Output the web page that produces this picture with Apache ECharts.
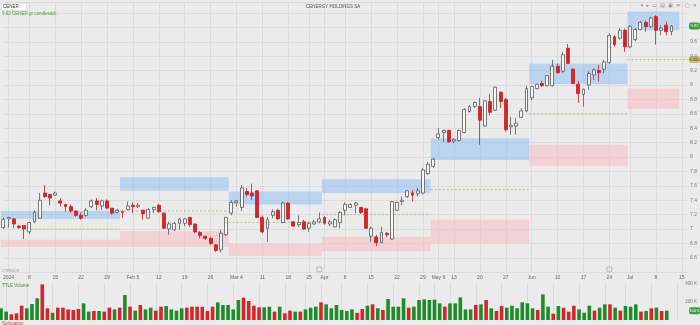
<!DOCTYPE html>
<html><head><meta charset="utf-8">
<script src="https://cdn.jsdelivr.net/npm/echarts@6/dist/echarts.min.js"></script>
<style>html,body{margin:0;padding:0;background:#ebebeb;}#c{width:700px;height:325px;}</style>
</head><body><div id="c"></div>
<script>
// trading days (Athens exchange), Dec 29 2023 .. Jul 11 2024
const tradingDays = {
  '2023-12': [29],
  '2024-01': [2,3,4,5,8,9,10,11,12,15,16,17,18,19,22,23,24,25,26,29,30,31],
  '2024-02': [1,2,5,6,7,8,9,12,13,14,15,16,19,20,21,22,23,26,27,28,29],
  '2024-03': [1,4,5,6,7,8,11,12,13,14,15,19,20,21,22,26,27,28],
  '2024-04': [2,3,4,5,8,9,10,11,12,15,16,17,18,19,22,23,24,25,26,29,30],
  '2024-05': [2,7,8,9,13,14,15,16,17,20,21,22,23,24,27,28,29,30,31],
  '2024-06': [3,4,5,6,7,10,11,12,13,14,17,18,19,20,21,25,26,27,28],
  '2024-07': [1,2,3,4,5,8,9,10,11]
};
const futureDates = ['2024-07-12','2024-07-15','2024-07-16'];

const opens = [7.02,7.14,7.14,7.04,7.05,6.96,7.10,7.15,7.50,7.48,
 7.47,7.39,7.34,7.31,7.25,7.19,7.19,7.31,7.39,7.32,
 7.39,7.29,7.23,7.24,7.27,7.33,7.31,7.26,7.15,7.27,
 7.33,7.22,7.00,6.99,7.08,7.08,7.16,7.07,6.95,6.90,
 6.87,6.78,6.71,6.92,7.22,7.37,7.30,7.52,7.50,7.53,
 7.16,7.01,7.19,7.26,7.09,7.36,7.10,7.06,7.10,7.01,
 7.07,7.10,7.16,7.07,7.03,7.09,7.26,7.30,7.33,7.30,
 7.28,6.90,6.89,6.81,6.94,6.86,7.26,7.38,7.45,7.50,
 7.49,7.50,7.77,7.87,8.27,8.34,8.37,8.22,8.23,8.34,
 8.63,8.70,8.70,8.43,8.77,8.65,8.90,8.80,8.42,8.43,
 8.55,8.64,8.82,8.95,9.02,8.99,8.99,9.26,9.19,9.51,
 9.22,9.01,8.87,9.00,9.14,9.20,9.22,9.31,9.67,9.65,
 9.76,9.53,9.63,9.77,9.87,9.81,9.95,9.76,9.83,9.74];
const highs = [7.16,7.17,7.15,7.06,7.05,7.10,7.26,7.50,7.61,7.49,
 7.52,7.43,7.35,7.34,7.26,7.23,7.29,7.41,7.43,7.41,
 7.41,7.29,7.28,7.26,7.38,7.37,7.36,7.27,7.29,7.31,
 7.35,7.23,7.10,7.10,7.15,7.15,7.17,7.08,6.97,6.91,
 6.89,6.79,6.99,7.17,7.40,7.40,7.61,7.57,7.63,7.54,
 7.19,7.17,7.27,7.28,7.38,7.37,7.11,7.19,7.13,7.10,
 7.13,7.23,7.18,7.13,7.15,7.25,7.37,7.36,7.38,7.31,
 7.29,7.03,6.92,7.03,6.96,7.39,7.38,7.45,7.54,7.54,
 7.57,7.85,7.93,7.99,8.40,8.38,8.38,8.26,8.38,8.68,
 8.72,8.77,8.82,8.79,8.88,8.98,8.91,8.82,8.56,8.54,
 8.68,8.99,8.99,9.02,9.06,9.14,9.35,9.30,9.46,9.57,
 9.23,9.06,8.95,9.19,9.23,9.28,9.35,9.72,9.69,9.79,
 9.78,9.83,9.79,9.89,9.90,9.95,9.97,9.83,9.88,9.83];
const lows = [7.00,7.02,7.01,7.00,6.86,6.93,7.08,7.14,7.43,7.33,
 7.46,7.31,7.24,7.22,7.17,7.13,7.17,7.29,7.26,7.26,
 7.27,7.20,7.22,7.15,7.26,7.22,7.29,7.13,7.14,7.22,
 7.23,7.00,6.92,6.97,6.99,7.04,7.03,6.94,6.87,6.85,
 6.78,6.68,6.67,6.90,7.19,7.31,7.25,7.45,7.40,7.15,
 6.94,6.82,7.15,7.13,7.08,7.13,7.03,7.03,6.99,6.96,
 7.06,7.08,7.06,7.04,7.02,7.01,7.19,7.29,7.22,7.21,
 7.00,6.82,6.76,6.80,6.89,6.85,7.25,7.33,7.43,7.38,
 7.45,7.48,7.75,7.85,8.24,8.21,8.20,8.19,8.21,8.33,
 8.62,8.68,8.17,8.42,8.58,8.64,8.68,8.35,8.31,8.31,
 8.54,8.62,8.79,8.94,8.97,8.98,8.98,9.16,9.17,9.29,
 9.01,8.75,8.70,8.93,9.07,9.05,9.16,9.30,9.53,9.63,
 9.46,9.51,9.61,9.76,9.74,9.79,9.56,9.69,9.69,9.69];
const closes = [7.13,7.16,7.07,7.02,7.00,7.09,7.23,7.40,7.45,7.43,
 7.50,7.36,7.31,7.25,7.19,7.15,7.26,7.39,7.34,7.39,
 7.29,7.22,7.26,7.23,7.32,7.31,7.33,7.21,7.27,7.30,
 7.24,7.01,7.07,7.08,7.14,7.14,7.06,6.96,6.91,6.87,
 6.80,6.70,6.94,7.16,7.37,7.39,7.57,7.48,7.46,7.16,
 6.96,7.13,7.24,7.14,7.36,7.14,7.04,7.09,7.00,7.08,
 7.10,7.14,7.08,7.10,7.13,7.23,7.34,7.34,7.36,7.23,
 7.01,7.01,6.81,6.95,6.92,7.38,7.37,7.40,7.53,7.47,
 7.53,7.82,7.90,7.97,8.32,8.37,8.21,8.24,8.37,8.66,
 8.70,8.76,8.51,8.78,8.62,8.97,8.77,8.38,8.44,8.47,
 8.64,8.95,8.98,9.01,8.99,9.13,9.26,9.17,9.42,9.30,
 9.02,8.88,8.94,9.16,9.21,9.17,9.32,9.69,9.56,9.76,
 9.53,9.81,9.77,9.87,9.81,9.93,9.76,9.79,9.74,9.82];
// volume in thousands
const volumes = [130,93,63,74,159,130,178,241,396,130,
 81,137,137,118,111,122,185,93,100,100,
 93,137,118,137,278,148,104,167,118,137,
 104,148,155,118,104,130,137,148,148,148,
 100,148,196,167,167,118,222,248,211,159,
 141,141,148,93,148,74,104,93,93,118,
 137,148,196,174,130,167,111,100,118,80,
 122,159,174,130,111,233,148,148,241,137,
 148,222,229,222,226,185,148,185,185,252,
 118,118,167,174,222,130,100,155,137,159,
 130,196,185,130,111,285,148,70,155,137,
 93,159,118,81,159,104,137,174,174,137,
 104,155,148,174,93,100,130,137,100,104];

const tickDates = ['2024-01-02','2024-01-08','2024-01-15','2024-01-22','2024-01-29','2024-02-05','2024-02-12','2024-02-19','2024-02-26','2024-03-04','2024-03-11','2024-03-19','2024-03-26','2024-04-02','2024-04-08','2024-04-15','2024-04-22','2024-04-29','2024-05-07','2024-05-13','2024-05-20','2024-05-27','2024-06-03','2024-06-10','2024-06-17','2024-06-25','2024-07-01','2024-07-08','2024-07-15'];
const tickTexts = ['2024','8','15','22','29','Feb 5','12','19','26','Mar 4','11','18','25','Apr','8','15','22','29','May 6','13','20','27','Jun','10','17','24','Jul','8','15'];

// monthly zones
const zoneStart = ['2023-12-29','2024-02-01','2024-03-01','2024-04-02','2024-05-02','2024-06-03','2024-07-01'];
const zoneEnd   = ['2024-01-31','2024-02-29','2024-03-28','2024-04-30','2024-05-31','2024-06-28','2024-07-12'];
const pivotEnd  = ['2024-01-31','2024-02-29','2024-03-28','2024-04-30','2024-05-31','2024-06-28','2024-07-16'];
const resistLow  = [7.14,7.53,7.34,7.50,7.96,9.01,9.76];
const resistHigh = [7.25,7.72,7.52,7.69,8.26,9.30,10.02];
const supportLow  = [6.75,6.75,6.63,6.69,6.81,7.88,8.67];
const supportHigh = [6.85,6.97,6.80,6.89,7.13,8.17,8.95];
const pivots = [7.00,7.25,7.09,7.20,7.55,8.60,9.355];
const pivotFirst = [5,0,0,0,0,0,0];
const events = ['2024-03-28','2024-06-25'];

// ---- build ----
const pad = n => (n < 10 ? '0' : '') + n;
const dates = [];
Object.keys(tradingDays).forEach(m => tradingDays[m].forEach(d => dates.push(m + '-' + pad(d))));
const allDates = dates.concat(futureDates);
const tickMap = {};
tickDates.forEach((d, i) => { tickMap[d] = tickTexts[i]; });
const isTick = (idx, val) => tickMap[val] !== undefined;
const idx = d => allDates.indexOf(d);

const candleData = dates.map((d, i) => [opens[i], closes[i], lows[i], highs[i]]);
const UP = '#1f8b2b', DOWN = '#d3262b';
const volData = volumes.map((v, i) => ({ value: v, itemStyle: { color: closes[i] >= opens[i] ? UP : DOWN } }));

const zoneData = [];
zoneStart.forEach((s, i) => {
  zoneData.push([idx(s), idx(zoneEnd[i]), resistLow[i], resistHigh[i], 1]);
  zoneData.push([idx(s), idx(zoneEnd[i]), supportLow[i], supportHigh[i], 0]);
});
const pivotData = zoneStart.map((s, i) => [idx(s) + pivotFirst[i], idx(pivotEnd[i]), pivots[i]]);
const eventData = events.map(d => [d, 6.44]);

const FONT = 'Liberation Sans';
const GRIDC = '#dcdcdc';
const chart = echarts.init(document.getElementById('c'), null, { renderer: 'canvas' });
const lastVol = volumes[volumes.length - 1];
const lastClose = closes[closes.length - 1];
const lastPivot = pivots[pivots.length - 1];

chart.setOption({
  animation: false,
  backgroundColor: '#ebebeb',
  textStyle: { fontFamily: FONT },
  grid: [
    { left: 1, right: 12.6, top: 2.2, bottom: 52.8 },
    { left: 1, right: 12.6, top: 283.1, bottom: 5 }
  ],
  xAxis: [
    { type: 'category', gridIndex: 0, data: allDates, boundaryGap: false,
      axisLine: { show: false }, axisTick: { show: false },
      axisLabel: { interval: isTick, formatter: v => tickMap[v] || '', fontSize: 5, color: '#666', margin: 3, fontFamily: FONT },
      splitLine: { show: true, interval: isTick, lineStyle: { color: GRIDC, width: 1 } } },
    { type: 'category', gridIndex: 1, data: allDates, boundaryGap: false,
      axisLine: { show: false }, axisTick: { show: false }, axisLabel: { show: false },
      splitLine: { show: true, interval: isTick, lineStyle: { color: GRIDC, width: 1 } } }
  ],
  yAxis: [
    { type: 'value', gridIndex: 0, position: 'right', min: 6.4, max: 10.15, interval: 0.2,
      axisLine: { show: false }, axisTick: { show: false },
      axisLabel: { fontSize: 5, color: '#777', margin: 3, fontFamily: FONT,
        formatter: v => (v > 6.55 && v < 9.65) ? String(+v.toFixed(1)) : '' },
      splitLine: { lineStyle: { color: GRIDC, width: 1 } } },
    { type: 'value', gridIndex: 1, position: 'right', min: 0, max: 410, interval: 200,
      axisLine: { show: false }, axisTick: { show: false },
      axisLabel: { fontSize: 4.5, color: '#777', margin: 3, fontFamily: FONT,
        formatter: v => (v === 200 || v === 400) ? v + ' K' : '' },
      splitLine: { show: false } }
  ],
  series: [
    { type: 'custom', name: 'zones', xAxisIndex: 0, yAxisIndex: 0, z: 1, silent: true,
      data: zoneData, encode: { x: [0, 1], y: [2, 3] },
      renderItem: (params, api) => {
        const a = api.coord([api.value(0), api.value(3)]);
        const b = api.coord([api.value(1), api.value(2)]);
        const bw = api.size([1, 0])[0];
        return { type: 'rect',
          shape: { x: a[0] - bw / 2, y: a[1], width: b[0] - a[0] + bw, height: b[1] - a[1] },
          style: { fill: api.value(4) === 1 ? 'rgba(150,195,242,0.58)' : 'rgba(252,182,192,0.5)' } };
      } },
    { type: 'custom', name: 'pivots', xAxisIndex: 0, yAxisIndex: 0, z: 2, silent: true,
      data: pivotData, encode: { x: [0, 1], y: 2 },
      renderItem: (params, api) => {
        const a = api.coord([api.value(0), api.value(2)]);
        const b = api.coord([api.value(1), api.value(2)]);
        const bw = api.size([1, 0])[0];
        return { type: 'line',
          shape: { x1: a[0] - bw / 2, y1: a[1], x2: b[0] + bw / 2, y2: b[1] },
          style: { stroke: '#b9ad78', lineWidth: 0.8, lineDash: [2, 2] } };
      } },
    { type: 'candlestick', name: 'CENER', xAxisIndex: 0, yAxisIndex: 0, z: 3,
      data: candleData, barWidth: 3.4, clip: false,
      itemStyle: { color: '#f6f6f6', color0: '#d3262b', borderColor: '#5a5a5a', borderColor0: '#c81f25', borderWidth: 0.8 } },
    { type: 'scatter', name: 'events', xAxisIndex: 0, yAxisIndex: 0, z: 4, silent: true,
      data: eventData, symbol: 'roundRect', symbolSize: 5,
      itemStyle: { color: 'rgba(0,0,0,0)', borderColor: '#9a9a9a', borderWidth: 0.8 } },
    { type: 'bar', name: 'Volume', xAxisIndex: 1, yAxisIndex: 1, data: volData, barWidth: 3.6 }
  ]
});

// value tags on the right edge, positioned through the axes' own scales
function tag(yPix, text, bg, fg) {
  return { type: 'group', x: 689, y: yPix - 3.5, z: 100, children: [
    { type: 'rect', shape: { x: 0, y: 0, width: 11, height: 7, r: 2 }, style: { fill: bg } },
    { type: 'text', style: { x: 5.5, y: 3.6, text: text, fontSize: 4, fill: fg, align: 'center', verticalAlign: 'middle', fontFamily: FONT } }
  ] };
}
const yClose = chart.convertToPixel({ yAxisIndex: 0 }, lastClose);
const yPivot = chart.convertToPixel({ yAxisIndex: 0 }, lastPivot);
const yVol = chart.convertToPixel({ yAxisIndex: 1 }, lastVol);

chart.setOption({ graphic: [
  { type: 'rect', left: 1, top: 3, shape: { width: 25, height: 7 }, style: { fill: '#fff', stroke: '#cfcfcf', lineWidth: 0.5 } },
  { type: 'text', left: 3, top: 4.2, style: { text: 'CENER', fontSize: 4.5, fill: '#333', fontFamily: FONT } },
  { type: 'text', left: 306, top: 3.8, style: { text: 'CENERGY HOLDINGS SA', fontSize: 4.5, fill: '#555', fontFamily: FONT } },
  { type: 'text', left: 2, top: 11.5, style: { text: '9.82 CENER.gr candlestick', fontSize: 4.5, fill: '#5e9a42', fontFamily: FONT } },
  { type: 'text', right: 3, top: 3.5, style: { text: '\u25BE  \u25B8  \u25AD  \u25A4  \u25A3  \u2261   \u25A2  \u2715', fontSize: 5, fill: '#8a8a8a', fontFamily: 'DejaVu Sans' } },
  { type: 'text', left: 2, top: 268.5, style: { text: 'CTRMCE', fontSize: 4, fill: '#9a9a9a', fontFamily: FONT } },
  { type: 'text', left: 2, top: 283, style: { text: 'TTLE Volume', fontSize: 4.5, fill: '#5a7a3a', fontFamily: FONT } },
  { type: 'text', left: 2, top: 321.5, style: { text: 'Sortstation', fontSize: 4.5, fill: '#d04040', fontFamily: FONT } },
  tag(yClose, lastClose.toFixed(2), '#3c9c45', '#fff'),
  tag(yPivot, lastPivot.toFixed(3), '#cfba68', '#333'),
  tag(yVol, lastVol + ' K', '#3c9c45', '#fff')
] });
</script></body></html>
